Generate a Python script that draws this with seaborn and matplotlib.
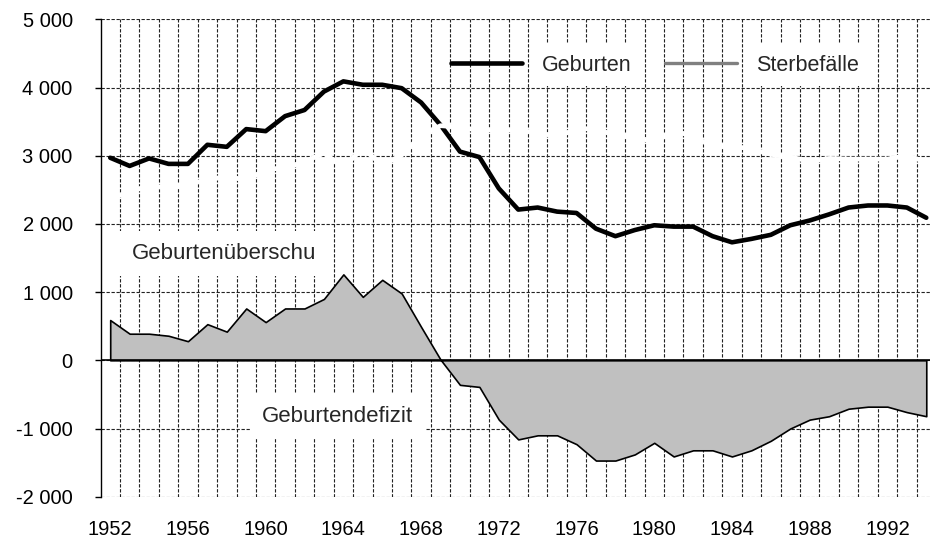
import numpy as np
import pandas as pd
import matplotlib
matplotlib.use("Agg")
import matplotlib.pyplot as plt
from matplotlib.lines import Line2D
from matplotlib.ticker import FuncFormatter
import seaborn as sns

# Werte
years = list(range(1952, 1995))
births = [2970, 2850, 2960, 2880, 2880, 3160, 3130, 3390, 3360, 3580,
          3670, 3940, 4090, 4040, 4040, 3990, 3780, 3450, 3060, 2980,
          2520, 2210, 2240, 2180, 2160, 1930, 1820, 1910, 1980, 1960,
          1960, 1820, 1730, 1780, 1840, 1980, 2050, 2140, 2240, 2270,
          2270, 2240, 2090]
deaths = [2380, 2460, 2570, 2520, 2600, 2630, 2710, 2630, 2800, 2820,
          2910, 3040, 2830, 3110, 2860, 3010, 3290, 3440, 3420, 3370,
          3390, 3370, 3340, 3280, 3390, 3400, 3290, 3290, 3190, 3370,
          3280, 3140, 3140, 3100, 3020, 2980, 2920, 2960, 2950, 2950,
          2950, 3000, 2910]
year_labels = list(range(1952, 1993, 4))
y_ticks = list(range(-2000, 5001, 1000))

df = pd.DataFrame({"Jahr": years, "Geburten": births, "Sterbefälle": deaths})
df["Saldo"] = df["Geburten"] - df["Sterbefälle"]

sns.set_style("white")
plt.rcParams['font.family'] = ['Liberation Sans', 'DejaVu Sans']

fig = plt.figure(figsize=(9.3, 5.4), dpi=100)
ax = fig.add_axes([100.5 / 930, 43.3 / 540, 829.5 / 930, 477.4 / 540])

# Geburtenüberschuss / -defizit als Fläche
ax.fill_between(df["Jahr"], 0, df["Saldo"], facecolor='#c0c0c0',
                edgecolor='black', linewidth=1.2, zorder=2)
ax.axhline(0, color='black', lw=1.2, zorder=2)

sns.lineplot(data=df, x="Jahr", y="Geburten", color='black', lw=3.3, ax=ax, zorder=3)
sns.lineplot(data=df, x="Jahr", y="Sterbefälle", color='white', lw=3.4, ax=ax, zorder=4)

ax.set_xlim(1951.5, 1951.5 + 829.5 / 19.43)
ax.set_ylim(-2000, 5000)
ax.set_xlabel('')
ax.set_ylabel('')

ax.set_xticks(year_labels)
ax.set_xticks(np.arange(1952.5, 1994, 1), minor=True)
ax.set_yticks(y_ticks)
ax.yaxis.set_major_formatter(FuncFormatter(lambda v, p: f"{int(v):,}".replace(",", " ")))

grid_style = dict(color='#222222', linestyle=(0, (3, 1.5)), linewidth=0.8)
ax.xaxis.grid(True, which='minor', **grid_style)
ax.xaxis.grid(False, which='major')
ax.yaxis.grid(True, which='major', **grid_style)
ax.set_axisbelow(True)

ax.tick_params(axis='x', which='both', length=0, pad=17, labelsize=14.5, colors='black')
ax.tick_params(axis='y', which='major', length=4, width=1, direction='out',
               pad=16, labelsize=14.5, colors='black', left=True)

for side in ['top', 'right', 'bottom']:
    ax.spines[side].set_visible(False)
ax.spines['left'].set_color('black')
ax.spines['left'].set_linewidth(1)

# Beschriftungen in weißen Kästen
box = dict(boxstyle='square,pad=0.55', facecolor='white', edgecolor='none')
ax.text(1957.85, 1570, 'Geburtenüberschu', fontsize=16, ha='center', va='center',
        bbox=box, zorder=5)
ax.text(1963.7, -820, 'Geburtendefizit', fontsize=16, ha='center', va='center',
        bbox=box, zorder=5)

handles = [Line2D([], [], color='black', lw=3.3),
           Line2D([], [], color='#808080', lw=2.4)]
leg = ax.legend(handles, ['Geburten', 'Sterbefälle'], loc='center left',
                bbox_to_anchor=((451 - 100.5) / 829.5, 0.904), ncol=2,
                frameon=False, fontsize=15.5, handlelength=3.3, handletextpad=0.9,
                columnspacing=1.6, borderpad=0, borderaxespad=0)
for t in leg.get_texts():
    t.set_bbox(dict(boxstyle='square,pad=0.5', facecolor='white', edgecolor='none'))
leg.set_zorder(6)

fig.savefig("out.png", dpi=100)
